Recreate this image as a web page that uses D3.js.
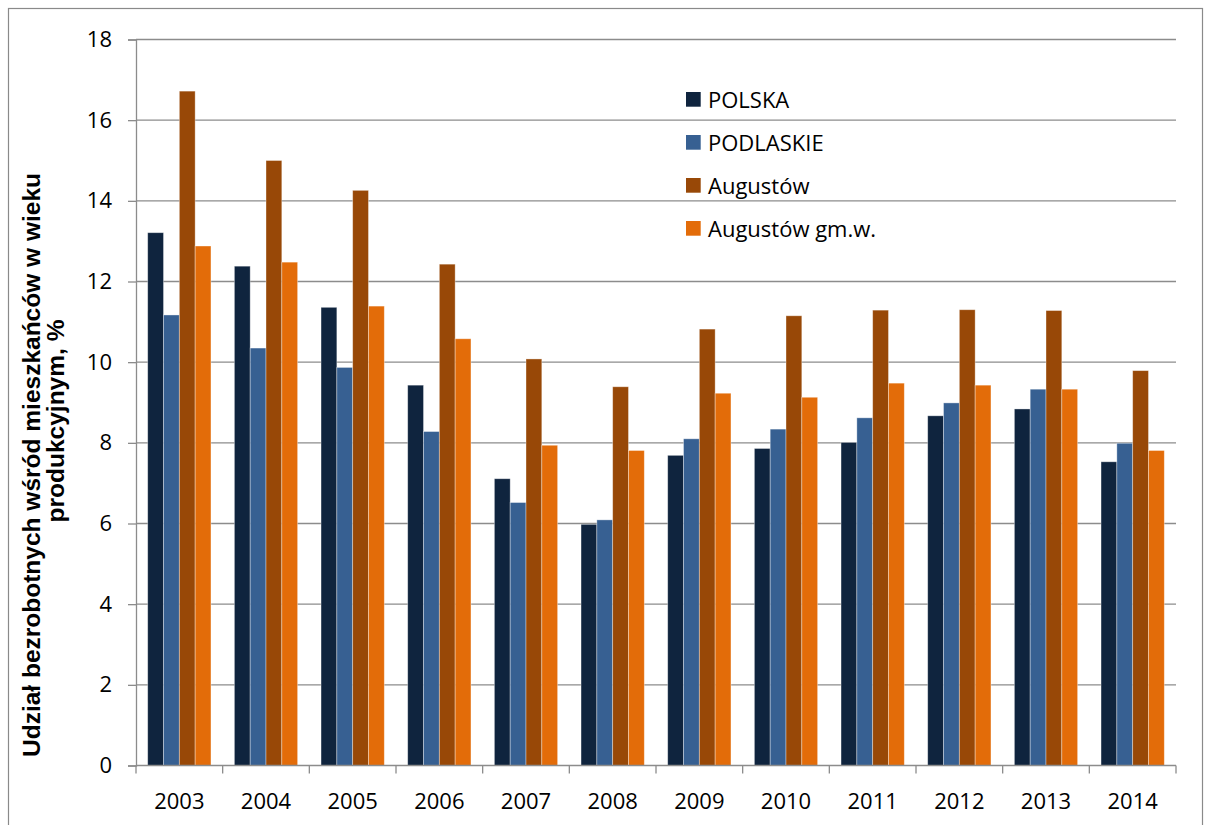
<!DOCTYPE html>
<html>
<head>
<meta charset="utf-8">
<script src="https://cdn.jsdelivr.net/npm/d3@7"></script>
<style>
  html, body { margin: 0; padding: 0; background: #fff; }
  svg { display: block; }
</style>
</head>
<body>
<svg id="chart" width="1206" height="825"></svg>
<script>
// Udział bezrobotnych w wieku produkcyjnym, 2003–2014
const years = ["2003","2004","2005","2006","2007","2008","2009","2010","2011","2012","2013","2014"];
const seriesNames = ["POLSKA", "PODLASKIE", "Augustów", "Augustów gm.w."];
const polska    = [13.21, 12.38, 11.36, 9.43, 7.11, 5.98, 7.69, 7.86, 8.01, 8.67, 8.84, 7.53];
const podlaskie = [11.17, 10.35, 9.87, 8.28, 6.52, 6.09, 8.10, 8.34, 8.62, 8.99, 9.33, 7.99];
const augustow  = [16.72, 15.00, 14.26, 12.43, 10.08, 9.39, 10.82, 11.15, 11.29, 11.30, 11.28, 9.79];
const augustowGm = [12.88, 12.48, 11.39, 10.58, 7.94, 7.81, 9.23, 9.13, 9.48, 9.43, 9.33, 7.81];
const yTicks = [0, 2, 4, 6, 8, 10, 12, 14, 16, 18];
const colors = ["#0F243E", "#376092", "#984807", "#E36C09"];

const FONT = "'Open Sans', 'Noto Sans', sans-serif";
const TITLE_FONT = "'Liberation Sans', Arial, sans-serif";

const seriesValues = [polska, podlaskie, augustow, augustowGm];
const rows = years.map((y, i) => ({ year: y, values: seriesValues.map(s => s[i]) }));

const svg = d3.select("#chart");
const plot = { left: 136, right: 1176, top: 39.5, bottom: 765.5 };

// outer frame
svg.append("rect")
  .attr("x", 8.5).attr("y", 8.5)
  .attr("width", 1194).attr("height", 830)
  .attr("fill", "none").attr("stroke", "#8a8a8a").attr("stroke-width", 1.2);

const x = d3.scaleBand().domain(years).range([plot.left, plot.right])
  .paddingInner(0.27).paddingOuter(0.135);
const xs = d3.scaleBand().domain(d3.range(seriesNames.length)).range([0, x.bandwidth()]);
const y = d3.scaleLinear().domain([0, 18]).range([plot.bottom, plot.top]);

// horizontal gridlines
svg.append("g").selectAll("line").data(yTicks.filter(t => t > 0)).join("line")
  .attr("x1", plot.left).attr("x2", plot.right)
  .attr("y1", d => y(d)).attr("y2", d => y(d))
  .attr("stroke", "#8c8c8c").attr("stroke-width", 1.3);

// bars
svg.append("g").selectAll("g").data(rows).join("g")
  .attr("transform", d => `translate(${x(d.year)},0)`)
  .selectAll("rect").data(d => d.values.map((v, k) => ({ v, k }))).join("rect")
  .attr("x", d => xs(d.k))
  .attr("width", xs.bandwidth())
  .attr("y", d => y(d.v))
  .attr("height", d => y(0) - y(d.v))
  .attr("fill", d => colors[d.k])
  .attr("stroke", "rgba(255,255,255,0.45)")
  .attr("stroke-width", 0.8);

// y axis
const yAxis = svg.append("g")
  .attr("transform", `translate(${plot.left},0)`)
  .call(d3.axisLeft(y).tickValues(yTicks).tickSize(8).tickPadding(16).tickFormat(d3.format("d")));
yAxis.select(".domain").attr("stroke", "#8c8c8c").attr("stroke-width", 1.3);
yAxis.selectAll(".tick line").attr("stroke", "#8c8c8c").attr("stroke-width", 1.3);
yAxis.selectAll(".tick text").attr("font-size", 22).attr("font-family", FONT).attr("fill", "#000");

// x axis, ticks on category boundaries
const xAxisG = svg.append("g").attr("transform", `translate(0,${plot.bottom})`);
xAxisG.append("line")
  .attr("x1", plot.left).attr("x2", plot.right)
  .attr("stroke", "#8c8c8c").attr("stroke-width", 1.3);
const step = x.step();
xAxisG.selectAll(".xtick").data(d3.range(years.length + 1)).join("line")
  .attr("class", "xtick")
  .attr("x1", i => plot.left + i * step).attr("x2", i => plot.left + i * step)
  .attr("y1", 0).attr("y2", 8)
  .attr("stroke", "#8c8c8c").attr("stroke-width", 1.3);
xAxisG.selectAll(".xlabel").data(years).join("text")
  .attr("class", "xlabel")
  .attr("x", d => x(d) + x.bandwidth() / 2)
  .attr("y", 43)
  .attr("text-anchor", "middle")
  .attr("font-family", FONT)
  .attr("font-size", 22)
  .attr("fill", "#000")
  .text(d => d);

// y axis title (two lines)
const title = svg.append("g")
  .attr("font-family", TITLE_FONT)
  .attr("font-weight", "bold")
  .attr("font-size", 24.5)
  .attr("fill", "#000");
title.append("text")
  .attr("transform", "translate(40,465) rotate(-90)")
  .attr("text-anchor", "middle")
  .text("Udział bezrobotnych wśród mieszkańców w wieku");
title.append("text")
  .attr("transform", "translate(64,421) rotate(-90)")
  .attr("text-anchor", "middle")
  .text("produkcyjnym, %");

// legend
const legend = svg.append("g").attr("transform", "translate(686,92)");
const item = legend.selectAll("g").data(seriesNames).join("g")
  .attr("transform", (d, i) => `translate(0,${i * 43})`);
item.append("rect").attr("width", 14.7).attr("height", 14.7)
  .attr("fill", (d, i) => colors[i]);
item.append("text")
  .attr("x", 22).attr("y", 7.4)
  .attr("dominant-baseline", "central")
  .attr("font-family", FONT)
  .attr("font-size", 22)
  .attr("fill", "#000")
  .text(d => d);
</script>
</body>
</html>
